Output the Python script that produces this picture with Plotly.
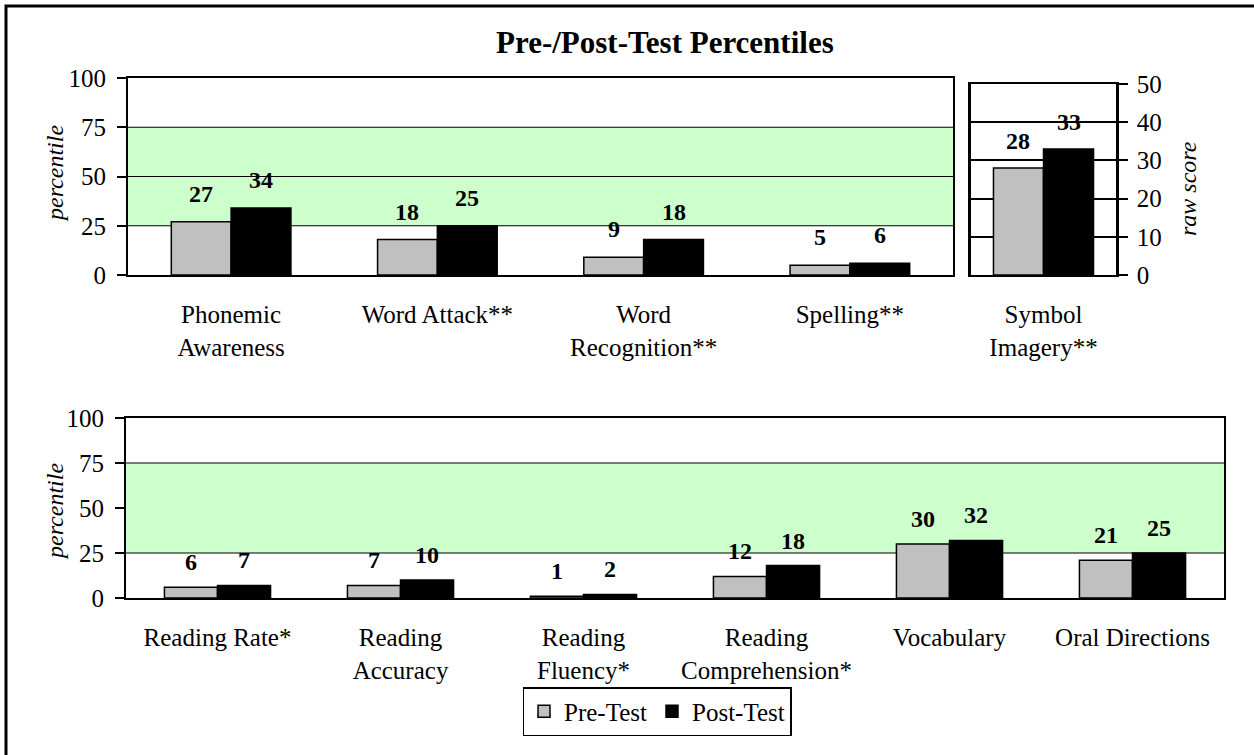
import plotly.graph_objects as go

# ---- data -------------------------------------------------------------
top_categories = ["Phonemic<br>Awareness", "Word Attack**", "Word<br>Recognition**", "Spelling**"]
top_pre = [27, 18, 9, 5]
top_post = [34, 25, 18, 6]

raw_categories = ["Symbol<br>Imagery**"]
raw_pre = [28]
raw_post = [33]

bottom_categories = ["Reading Rate*", "Reading<br>Accuracy", "Reading<br>Fluency*",
                     "Reading<br>Comprehension*", "Vocabulary", "Oral Directions"]
bottom_pre = [6, 7, 1, 12, 30, 21]
bottom_post = [7, 10, 2, 18, 32, 25]

percentile_ticks = [0, 25, 50, 75, 100]
raw_ticks = [0, 10, 20, 30, 40, 50]
average_band = (25, 75)

# ---- styling ------------------------------------------------------------
W, H = 1254, 755
FONT = "Liberation Serif"
PRE_COLOR = "#C0C0C0"
POST_COLOR = "#000000"
BAND_COLOR = "#CCFFCC"


def px_x(p):
    return p / W


def px_y(p):
    return 1 - p / H


panels = {
    # name: (xaxis, yaxis, x-domain px, y-domain px, bar width per series)
    "top": ("x", "y", (128, 953), (78, 275), 0.29),
    "raw": ("x2", "y2", (971, 1116), (84, 275), 0.345),
    "bottom": ("x3", "y3", (126, 1224), (418, 598), 0.29),
}

fig = go.Figure()
annotations = []


def add_panel(name, cats, pre, post, show_legend, label_shift):
    xa, ya, _, _, w = panels[name]
    idx = list(range(len(cats)))
    fig.add_trace(go.Bar(x=idx, y=pre, name="Pre-Test", xaxis=xa, yaxis=ya,
                         width=w, offset=-w,
                         marker=dict(color=PRE_COLOR, line=dict(color="black", width=1.5)),
                         showlegend=show_legend, legendgroup="pre"))
    fig.add_trace(go.Bar(x=idx, y=post, name="Post-Test", xaxis=xa, yaxis=ya,
                         width=w, offset=0,
                         marker=dict(color=POST_COLOR, line=dict(color="black", width=1.5)),
                         showlegend=show_legend, legendgroup="post"))
    for i in idx:
        for val, dx in ((pre[i], -w / 2), (post[i], w / 2)):
            annotations.append(dict(x=i + dx, y=val, xref=xa, yref=ya, text=str(val),
                                    showarrow=False, xanchor="center", yanchor="bottom",
                                    yshift=label_shift,
                                    font=dict(family=FONT, size=24, color="black",
                                              weight="bold")))


add_panel("top", top_categories, top_pre, top_post, False, 13)
add_panel("raw", raw_categories, raw_pre, raw_post, False, 12)
add_panel("bottom", bottom_categories, bottom_pre, bottom_post, True, 10)

axis_font = dict(family=FONT, size=25, color="black")
cat_font = dict(family=FONT, size=25, color="black")

layout_axes = {}
for name, cats in (("top", top_categories), ("raw", raw_categories), ("bottom", bottom_categories)):
    xa, ya, (x0, x1), (y0, y1), _ = panels[name]
    xkey = "xaxis" if xa == "x" else "xaxis" + xa[1:]
    ykey = "yaxis" if ya == "y" else "yaxis" + ya[1:]
    layout_axes[xkey] = dict(
        domain=[px_x(x0), px_x(x1)], anchor=ya, range=[-0.5, len(cats) - 0.5],
        tickvals=list(range(len(cats))), ticktext=cats, ticks="", showgrid=False,
        zeroline=False, showline=True, linecolor="black", linewidth=2, mirror=True,
        tickfont=cat_font, ticklabelstandoff=16, fixedrange=True, automargin=False,
    )
    yax = dict(
        domain=[px_y(y1), px_y(y0)], anchor=xa, showline=True, linecolor="black",
        linewidth=2, mirror=True, ticks="outside", ticklen=9, tickwidth=2,
        tickcolor="black", tickfont=axis_font, zeroline=False, fixedrange=True,
        ticklabelstandoff=6, automargin=False,
    )
    if name == "raw":
        yax.update(range=[0, 50], tickvals=raw_ticks, side="right", showgrid=True,
                   gridcolor="black", gridwidth=2, linewidth=2.5, ticklabelstandoff=4)
    else:
        yax.update(range=[0, 100], tickvals=percentile_ticks, showgrid=False)
    layout_axes[ykey] = yax

shapes = []
# average range band on the percentile panels
for xa, ya, lines in (("x", "y", [25, 50, 75]), ("x3", "y3", [25, 75])):
    shapes.append(dict(type="rect", xref=f"{xa} domain", yref=ya, x0=0, x1=1,
                       y0=average_band[0], y1=average_band[1], fillcolor=BAND_COLOR,
                       line=dict(width=0), layer="below"))
    for v in lines:
        shapes.append(dict(type="line", xref=f"{xa} domain", yref=ya, x0=0, x1=1,
                           y0=v, y1=v, line=dict(color="black", width=1.2), layer="below"))
# outer frame
shapes.append(dict(type="rect", xref="paper", yref="paper", x0=px_x(6), x1=1.2,
                   y0=-0.2, y1=px_y(6), line=dict(color="black", width=3)))

title_font = dict(family=FONT, size=24, color="black", style="italic")
annotations += [
    dict(text="Pre-/Post-Test Percentiles", xref="paper", yref="paper",
         x=px_x(665), y=px_y(43), showarrow=False, xanchor="center", yanchor="middle",
         font=dict(family=FONT, size=31, color="black", weight="bold")),
    dict(text="percentile", xref="paper", yref="paper", x=px_x(55), y=px_y(174),
         textangle=-90, showarrow=False, xanchor="center", yanchor="middle", font=title_font),
    dict(text="percentile", xref="paper", yref="paper", x=px_x(55), y=px_y(512),
         textangle=-90, showarrow=False, xanchor="center", yanchor="middle", font=title_font),
    dict(text="raw score", xref="paper", yref="paper", x=px_x(1188), y=px_y(189),
         textangle=-90, showarrow=False, xanchor="center", yanchor="middle", font=title_font),
]

fig.update_layout(
    template="none",
    width=W, height=H, margin=dict(l=0, r=0, t=0, b=0, autoexpand=False),
    paper_bgcolor="white", plot_bgcolor="white", barmode="overlay",
    showlegend=True,
    legend=dict(orientation="h", x=px_x(657), xanchor="center", y=px_y(687), yanchor="top",
                bordercolor="black", borderwidth=1.5, bgcolor="white",
                font=dict(family=FONT, size=25, color="black"),
                traceorder="normal"),
    shapes=shapes, annotations=annotations, **layout_axes,
)

fig.write_html("out.html")
